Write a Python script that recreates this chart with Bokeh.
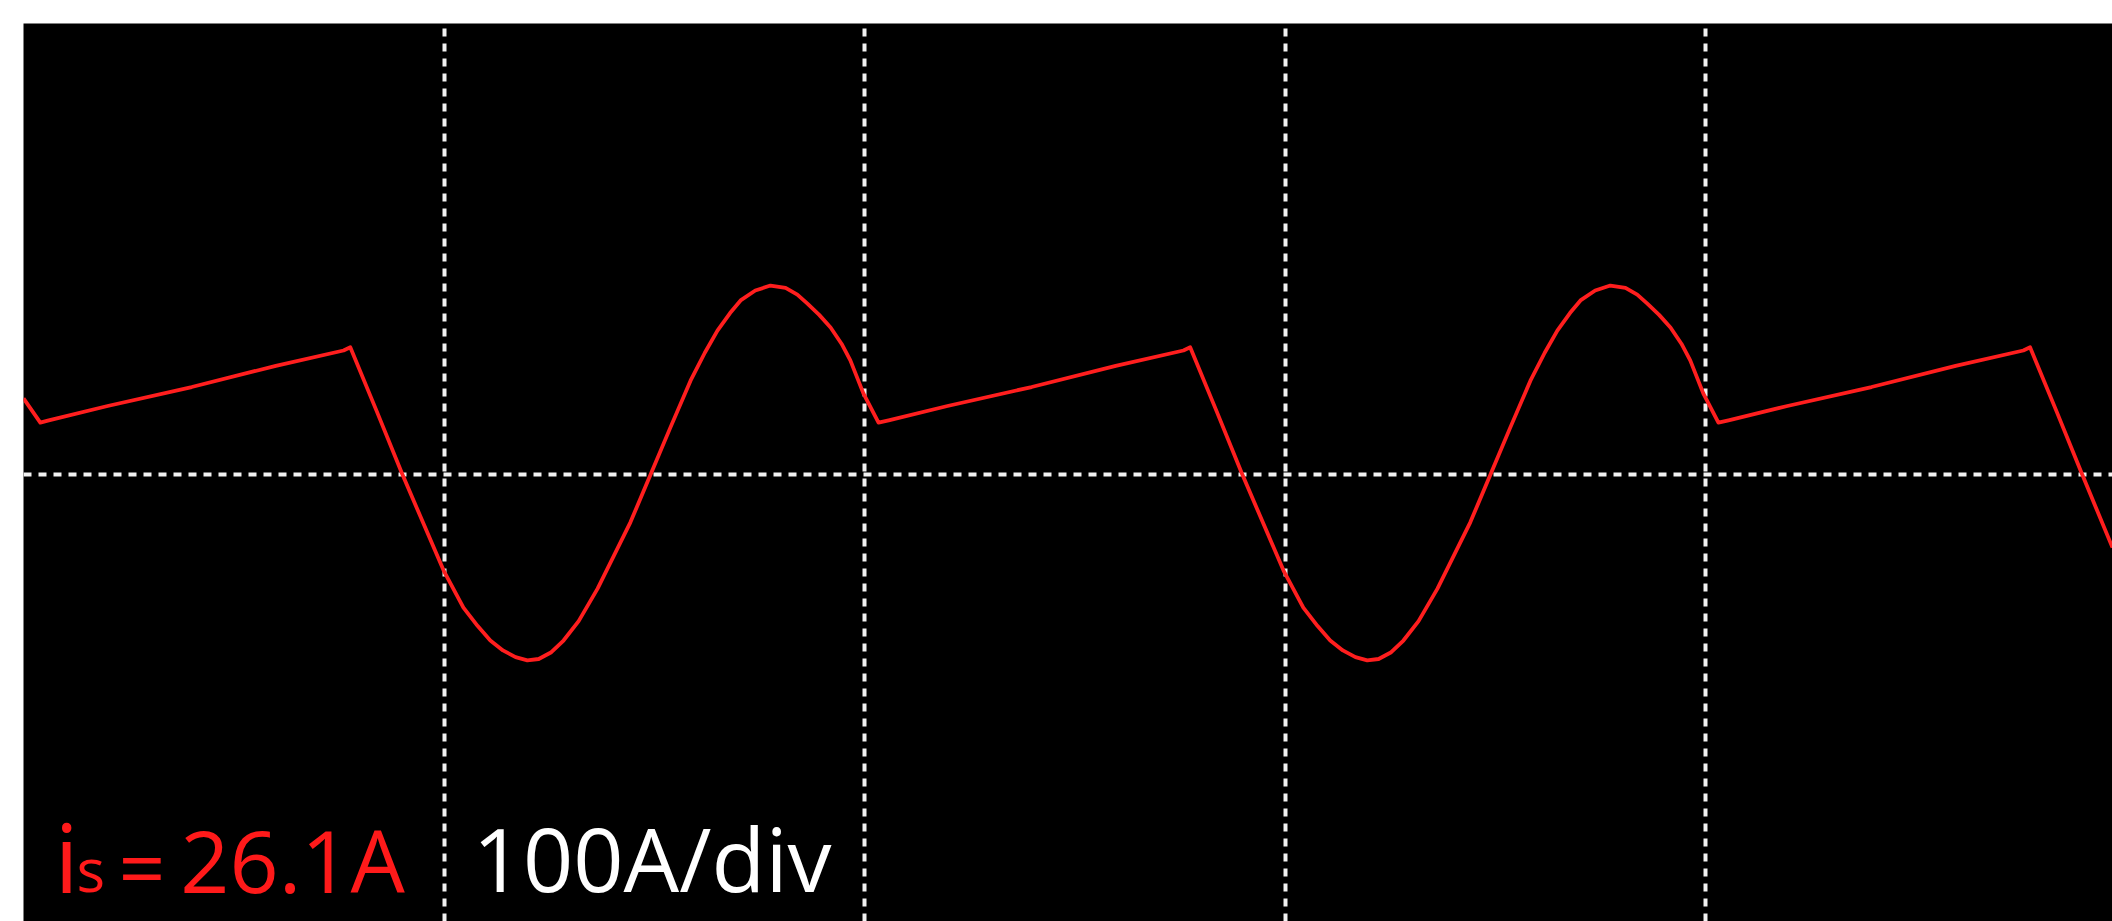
from bokeh.plotting import figure
from bokeh.models import Range1d, FixedTicker, Label
from bokeh.embed import file_html
from bokeh.resources import INLINE

# time in divisions, current in A (100 A/div)
t_cycle1 = [0.000, 0.040, 0.060, 0.200, 0.400, 0.600, 0.761, 0.777, 0.840, 0.901,
            0.999, 1.046, 1.080, 1.110, 1.140, 1.170, 1.198, 1.225, 1.255, 1.284,
            1.320, 1.365, 1.443, 1.491, 1.538, 1.586, 1.620, 1.650, 1.680, 1.705,
            1.740, 1.776, 1.812, 1.840, 1.864, 1.892, 1.919, 1.945, 1.966, 1.997,
            2.033]
i_cycle1 = [16.9, 11.5, 12.0, 15.2, 19.4, 24.1, 27.5, 28.2, 14.0, 0.0,
            -21.3, -29.5, -33.6, -36.8, -39.0, -40.5, -41.2, -40.9, -39.4, -36.8,
            -32.5, -25.3, -10.6, 0.0, 10.4, 20.8, 27.0, 31.9, 35.8, 38.6,
            40.8, 41.9, 41.4, 39.9, 37.9, 35.4, 32.6, 29.0, 25.3, 18.0,
            11.5]
t_cycle2 = [2.057, 2.197, 2.397, 2.597, 2.758, 2.774, 2.837, 2.898,
            2.996, 3.043, 3.077, 3.107, 3.137, 3.167, 3.195, 3.222, 3.252, 3.281,
            3.317, 3.362, 3.440, 3.488, 3.535, 3.583, 3.617, 3.647, 3.677, 3.702,
            3.737, 3.773, 3.809, 3.837, 3.861, 3.889, 3.916, 3.942, 3.963, 3.994,
            4.030]
i_cycle2 = [12.0, 15.2, 19.4, 24.1, 27.5, 28.2, 14.0, 0.0,
            -21.3, -29.5, -33.6, -36.8, -39.0, -40.5, -41.2, -40.9, -39.4, -36.8,
            -32.5, -25.3, -10.6, 0.0, 10.4, 20.8, 27.0, 31.9, 35.8, 38.6,
            40.8, 41.9, 41.4, 39.9, 37.9, 35.4, 32.6, 29.0, 25.3, 18.0,
            11.5]
t_cycle3 = [4.054, 4.194, 4.394, 4.594, 4.755, 4.771, 4.834, 4.895, 4.967]
i_cycle3 = [12.0, 15.2, 19.4, 24.1, 27.5, 28.2, 14.0, 0.0, -16.2]

x_grid = [1, 2, 3, 4]
y_grid = [0, 100]
x_lim = [0, 4.967]
y_lim = [-99.1, 100]

t_all = t_cycle1 + t_cycle2 + t_cycle3
i_all = i_cycle1 + i_cycle2 + i_cycle3

p = figure(width=2112, height=921, output_backend="svg", toolbar_location=None,
           x_range=Range1d(*x_lim), y_range=Range1d(*y_lim),
           min_border_left=23, min_border_top=23, min_border_right=0, min_border_bottom=0,
           background_fill_color="black", border_fill_color="white", outline_line_color=None)
p.xaxis.visible = False
p.yaxis.visible = False

p.xgrid.ticker = FixedTicker(ticks=x_grid)
p.ygrid.ticker = FixedTicker(ticks=y_grid)
for g in (p.xgrid, p.ygrid):
    g.grid_line_color = "#f2f2f2"
    g.grid_line_width = 4
    g.grid_line_dash = "8 7"
    g.grid_line_alpha = 1.0

p.line(t_all, i_all, line_color="#ff1e1e", line_width=3.8, line_join="round")

red = "#ff1a1a"
font = "Open Sans"
p.add_layout(Label(x=0.074, y=-84.4, text="i", text_color=red, text_font=font,
                   text_font_size="96px", text_baseline="middle"))
p.add_layout(Label(x=0.126, y=-87.5, text="s", text_color=red, text_font=font,
                   text_font_size="60px", text_baseline="middle"))
p.add_layout(Label(x=0.226, y=-86.7, text="=", text_color=red, text_font=font,
                   text_font_size="82px", text_baseline="middle"))
p.add_layout(Label(x=0.373, y=-85.3, text="26.1A", text_color=red, text_font=font,
                   text_font_size="86px", text_baseline="middle"))
p.add_layout(Label(x=1.068, y=-85.1, text="100A/div", text_color="white", text_font=font,
                   text_font_size="88px", text_baseline="middle"))

open("out.html", "w").write(file_html(p, INLINE))
